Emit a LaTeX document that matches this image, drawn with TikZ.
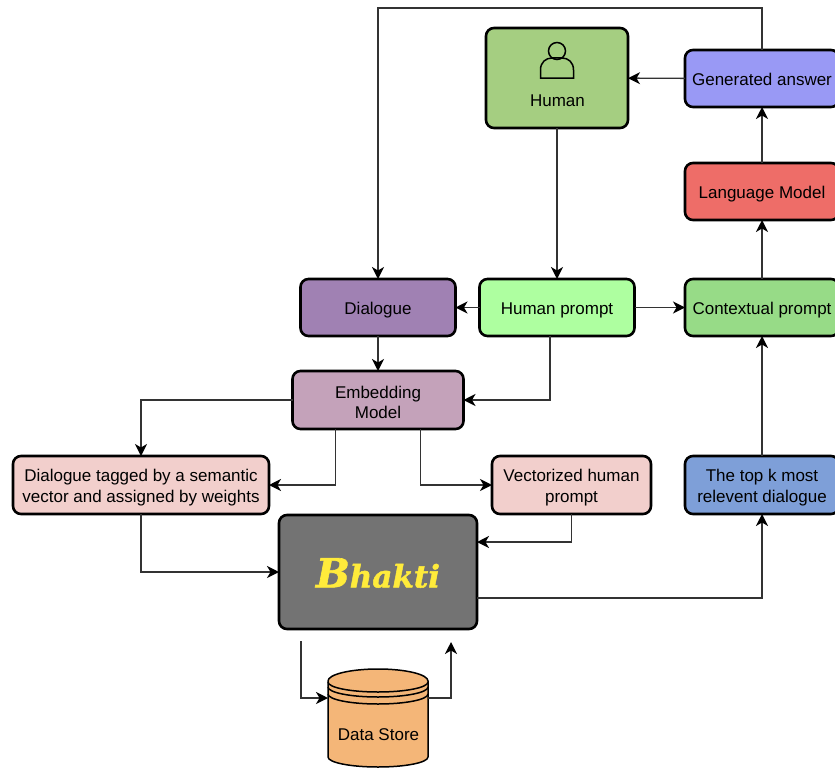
\documentclass[tikz,border=0pt]{standalone}
\usepackage{fontspec}
\setmainfont{Liberation Sans}
\newfontfamily\logofont[BoldItalicFeatures={FakeBold=1.5}]{DejaVu Serif}
\usetikzlibrary{arrows.meta}
\definecolor{humangreen}{HTML}{A5CE81}
\definecolor{answerblue}{HTML}{9999F5}
\definecolor{modelred}{HTML}{EE6D68}
\definecolor{contextgreen}{HTML}{97DB87}
\definecolor{promptgreen}{HTML}{AEFFA0}
\definecolor{dialoguepurple}{HTML}{A081B3}
\definecolor{embedmauve}{HTML}{C4A2BA}
\definecolor{tagpink}{HTML}{F2CFCC}
\definecolor{topkblue}{HTML}{7E9FD8}
\definecolor{bhaktigray}{HTML}{737373}
\definecolor{storeorange}{HTML}{F4B678}
\definecolor{logoyellow}{HTML}{FFEB3B}
\begin{document}
\begin{tikzpicture}[x=1pt,y=-1pt,
  box/.style={draw,line width=2.6pt,rounded corners=8pt,align=center,inner sep=0pt,outer sep=0pt,font=\fontsize{17}{20.5}\selectfont},
  oneline/.style={box,text height=17pt,text depth=3.4pt},
  twoline/.style={box,text height=38pt},
  lbl/.style={inner sep=0pt,align=center,font=\fontsize{17}{20.5}\selectfont},
  conn/.style={draw=black!80,line width=1.4pt,-{Stealth[length=12pt,width=12pt,inset=3.5pt,black]}}]
\useasboundingbox (0,0) rectangle (835,768);
\node[box,fill=humangreen,minimum width=142pt,minimum height=100pt] (human) at (557,78) {};
\node[lbl] (humanlabel) at (557.5,101) {Human};
\node[oneline,fill=answerblue,minimum width=154pt,minimum height=57pt] (answer) at (762,78.5) {Generated answer};
\node[oneline,fill=modelred,minimum width=154pt,minimum height=57pt] (model) at (762,191.5) {Language Model};
\node[oneline,fill=contextgreen,minimum width=154pt,minimum height=57pt] (context) at (762,307.5) {Contextual prompt};
\node[oneline,fill=promptgreen,minimum width=155pt,minimum height=57pt] (prompt) at (557,307.5) {Human prompt};
\node[oneline,fill=dialoguepurple,minimum width=155pt,minimum height=57pt] (dialogue) at (378,307.5) {Dialogue};
\node[twoline,fill=embedmauve,minimum width=171pt,minimum height=58pt] (embedding) at (378,400) {Embedding\\Model};
\node[twoline,fill=tagpink,minimum width=256pt,minimum height=58pt] (tagged) at (141,485) {Dialogue tagged by a semantic\\vector and assigned by weights};
\node[twoline,fill=tagpink,minimum width=159pt,minimum height=58pt] (vectorized) at (571.5,485) {Vectorized human\\prompt};
\node[twoline,fill=topkblue,minimum width=154pt,minimum height=58pt] (topk) at (762,485) {The top k most\\relevent dialogue};
\node[box,fill=bhaktigray,minimum width=198pt,minimum height=114pt] (bhakti) at (378,572) {};
\node[inner sep=0pt,text=logoyellow,font=\logofont\bfseries\itshape\fontsize{31}{31}\selectfont] (logo) at (378,573) {{\fontsize{40}{40}\selectfont B}hakti};
\draw[line width=1.5pt] (557,51) circle (8.5);
\draw[line width=1.5pt] (540.5,78) -- (540.5,70) .. controls (540.5,62) and (546,58) .. (552,58) -- (562,58) .. controls (568,58) and (573.5,62) .. (573.5,70) -- (573.5,78) -- cycle;
\node[minimum width=100pt,minimum height=98pt,inner sep=0pt,outer sep=0pt] (store) at (378,718) {};
\draw[line width=1.5pt,fill=storeorange] (328,681) -- (328,757) arc[start angle=180,end angle=0,x radius=50,y radius=10] -- (428,681) arc[start angle=360,end angle=180,x radius=50,y radius=12] -- cycle;
\draw[line width=1.5pt] (328,682) arc[start angle=180,end angle=0,x radius=50,y radius=10];
\draw[line width=1.5pt] (328,687) arc[start angle=180,end angle=0,x radius=50,y radius=10];
\draw[line width=1.5pt] (328,694) arc[start angle=180,end angle=0,x radius=50,y radius=10];
\node[lbl] (storelabel) at (378.5,735) {Data Store};
\coordinate (storein) at (301,641);
\coordinate (storeout) at (451,642);
\coordinate (topturn) at (378,8);
\draw[conn] (answer) -- (human);
\draw[conn] (model) -- (answer);
\draw[conn] (context) -- (model);
\draw[conn] (topk) -- (context);
\draw[conn] (prompt) -- (context);
\draw[conn] (prompt) -- (dialogue);
\draw[conn] (dialogue) -- (embedding);
\draw[conn] (human) -- (prompt);
\draw[conn] (answer.north) |- (topturn) -- (dialogue.north);
\draw[conn] ([xshift=-7pt]prompt.south) |- (embedding.east);
\draw[conn] (embedding.west) -| (tagged.north);
\draw[conn] ([xshift=-42.5pt]embedding.south) |- (tagged.east);
\draw[conn] ([xshift=42.5pt]embedding.south) |- (vectorized.west);
\draw[conn] (vectorized.south) |- ([yshift=30pt]bhakti.east);
\draw[conn] (tagged.south) |- (bhakti.west);
\draw[conn] ([yshift=-26pt]bhakti.east) -| (topk.south);
\draw[conn] (storein) |- ([yshift=20pt]store.west);
\draw[conn] ([yshift=20pt]store.east) -| (storeout);
\end{tikzpicture}
\end{document}
